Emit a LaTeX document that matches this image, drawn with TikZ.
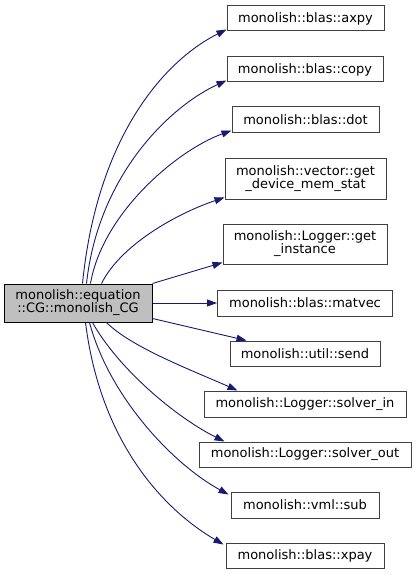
\documentclass[tikz,border=0pt]{standalone}
\usepackage{fontspec}
\setmainfont{DejaVu Sans}
\usetikzlibrary{arrows.meta}
\definecolor{midnightblue}{HTML}{191970}
\definecolor{grey25}{HTML}{404040}
\definecolor{grey75}{HTML}{BFBFBF}
\begin{document}
\begin{tikzpicture}[x=1pt,y=-1pt,
    font=\fontsize{13}{13}\selectfont,
    fnode/.style={draw=grey25, fill=white, line width=1pt, inner sep=0pt, align=center},
    rootnode/.style={fnode, draw=black, fill=grey75},
    callarrow/.style={draw=midnightblue, line width=0.9pt, -{Triangle[length=10pt,width=7pt]}}]
      \useasboundingbox (0,0) rectangle (416,575);
      \node[rootnode, minimum width=148pt, minimum height=38pt] (cg) at (78,303) {monolish::equation\\::CG::monolish\_CG};
      \node[fnode, minimum width=157pt, minimum height=25pt] (axpy) at (305.5,18.5) {monolish::blas::axpy};
      \node[fnode, minimum width=156pt, minimum height=25pt] (copy) at (305,69.5) {monolish::blas::copy};
      \node[fnode, minimum width=147pt, minimum height=25pt] (dot) at (305.5,119.5) {monolish::blas::dot};
      \node[fnode, minimum width=161pt, minimum height=41pt] (memstat) at (305.5,178.5) {monolish::vector::get\\\_device\_mem\_stat};
      \node[fnode, minimum width=164pt, minimum height=40pt] (instance) at (305,244) {monolish::Logger::get\\\_instance};
      \node[fnode, minimum width=175pt, minimum height=26pt] (matvec) at (305,303) {monolish::blas::matvec};
      \node[fnode, minimum width=150pt, minimum height=25pt] (send) at (305,353.5) {monolish::util::send};
      \node[fnode, minimum width=202pt, minimum height=26pt] (solverin) at (305,404) {monolish::Logger::solver\_in};
      \node[fnode, minimum width=212pt, minimum height=25pt] (solverout) at (305,454.5) {monolish::Logger::solver\_out};
      \node[fnode, minimum width=148pt, minimum height=26pt] (sub) at (305,505) {monolish::vml::sub};
      \node[fnode, minimum width=158pt, minimum height=25pt] (xpay) at (305,555.5) {monolish::blas::xpay};
      \begin{scope}[callarrow]
        \draw ([xshift=79pt]cg.north west) .. controls +(15,-150) and +(-60,30) .. ([yshift=2pt]axpy.south west);
        \draw ([xshift=83pt]cg.north west) .. controls +(12,-110) and +(-55,25) .. ([yshift=2pt]copy.south west);
        \draw ([xshift=87pt]cg.north west) .. controls +(12,-70) and +(-55,20) .. ([yshift=2pt]dot.south west);
        \draw ([xshift=98pt]cg.north west) .. controls +(20,-40) and +(-45,15) .. ([yshift=2pt]memstat.south west);
        \draw (cg.north east) -- ([yshift=2pt]instance.south west);
        \draw (cg.east) -- (matvec.west);
        \draw ([yshift=4pt]cg.south east) -- ([xshift=17pt]send.north west);
        \draw ([xshift=103pt]cg.south west) .. controls +(25,25) and +(-45,-20) .. ([xshift=34pt]solverin.north west);
        \draw ([xshift=89pt]cg.south west) .. controls +(25,45) and +(-50,-25) .. ([xshift=26pt]solverout.north west);
        \draw ([xshift=86pt]cg.south west) .. controls +(20,75) and +(-55,-30) .. ([xshift=-2pt,yshift=-3pt]sub.north west);
        \draw ([xshift=82pt]cg.south west) .. controls +(15,120) and +(-60,-35) .. ([xshift=-2pt,yshift=-2pt]xpay.north west);
      \end{scope}
\end{tikzpicture}
\end{document}
